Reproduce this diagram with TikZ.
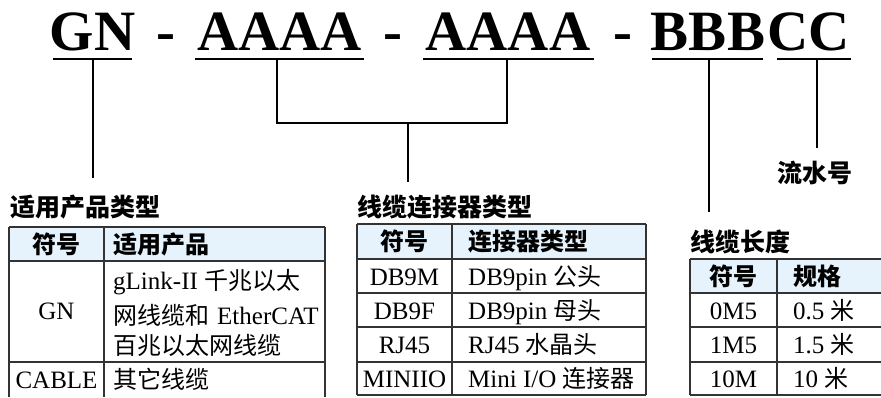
\documentclass[tikz,border=0pt]{standalone}
\usepackage{fontspec}
\setmainfont{Liberation Serif}
\newfontfamily\cjk{Noto Sans CJK SC}
\newcommand\zhtxt[1]{{\cjk\fontsize{24}{24}\selectfont #1}}
\newcommand\zhbold[1]{{\cjk\bfseries\fontsize{24}{24}\selectfont #1}}
\definecolor{headblue}{HTML}{E6F3FC}
\definecolor{gridcol}{HTML}{333333}
\begin{document}
\begin{tikzpicture}[x=1pt,y=-1pt,
  codetxt/.style={font=\fontsize{57}{57}\selectfont\bfseries, inner sep=0, anchor=base},
  uline/.style={line width=1.3pt},
  conn/.style={line width=1.3pt},
  ttl/.style={font=\cjk\bfseries\fontsize{25}{25}\selectfont, inner sep=0, anchor=base west},
  cellc/.style={font=\fontsize{25}{25}\selectfont, inner sep=0, anchor=base},
  cellw/.style={font=\fontsize{25}{25}\selectfont, inner sep=0, anchor=base west},
  grid/.style={draw=gridcol, line width=1.1pt},
  hdr/.style={fill=headblue}
]
\useasboundingbox (0,0) rectangle (881,397);

% ---- code line ----
\node[codetxt] (gn) at (92.5,50) {GN};
\node[codetxt] (d1) at (166,50) {-};
\node[codetxt] (a1) at (279.5,50) {AAAA};
\node[codetxt] (d2) at (393,50) {-};
\node[codetxt] (a2) at (508,50) {AAAA};
\node[codetxt] (d3) at (623,50) {-};
\node[codetxt] (bb) at (708,50) {BBB};
\node[codetxt] (cc) at (809,50) {CC};

% underlines
\draw[uline] (53,59) -- (132,59);
\draw[uline] (195,59) -- (364,59);
\draw[uline] (423,59) -- (594,59);
\draw[uline] (652,59) -- (763,59);
\draw[uline] (777,59) -- (851,59);

% connector points
\coordinate (gnU) at (93,59);
\coordinate (gnE) at (93,178);
\coordinate (a1U) at (277,59);
\coordinate (a1B) at (277,123);
\coordinate (a2U) at (507,59);
\coordinate (a2B) at (507,123);
\coordinate (midB) at (408,123);
\coordinate (midE) at (408,182);
\coordinate (bbU) at (709,59);
\coordinate (bbE) at (709,212);
\coordinate (ccU) at (817,59);
\coordinate (ccE) at (817,148);

\draw[conn] (gnU) -- (gnE);
\draw[conn] (a1U) -- (a1B) -- (a2B) -- (a2U);
\draw[conn] (midB) -- (midE);
\draw[conn] (bbU) -- (bbE);
\draw[conn] (ccU) -- (ccE);

% labels
\node[font=\cjk\bfseries\fontsize{25}{25}\selectfont, inner sep=0, anchor=base] (lsh) at (815,182) {流水号};
\node[ttl] (t1) at (10,216.5) {适用产品类型};
\node[ttl] (t2) at (357,216.5) {线缆连接器类型};
\node[ttl] (t3) at (690,251.5) {线缆长度};

% ---- table 1 ----
\fill[hdr] (9,227) rectangle (325,261);
\draw[grid] (9,227) -- (325,227);
\draw[grid] (9,261) -- (325,261);
\draw[grid] (9,362) -- (325,362);
\draw[grid] (9,227) -- (9,397);
\draw[grid] (104,227) -- (104,397);
\draw[grid] (325,227) -- (325,397);
\node[cellc] (h11) at (56.5,253) {\zhbold{符号}};
\node[cellw] (h12) at (113,253) {\zhbold{适用产品}};
\node[cellc] (c11) at (56.5,319) {GN};
\node[cellw] (c12a) at (113,289) {gLink-II \zhtxt{千兆以太}};
\node[cellw] (c12b) at (113,324) {\zhtxt{网线缆和}\hspace{8pt}EtherCAT};
\node[cellw] (c12c) at (113,354) {\zhtxt{百兆以太网线缆}};
\node[cellc] (c21) at (56.5,388) {CABLE};
\node[cellw] (c22) at (113,388) {\zhtxt{其它线缆}};

% ---- table 2 ----
\fill[hdr] (357,224) rectangle (646,259);
\foreach \yy in {224,259,293,327,362,395} \draw[grid] (357,\yy) -- (646,\yy);
\foreach \xx in {357,452,646} \draw[grid] (\xx,224) -- (\xx,395);
\node[cellc] (k11) at (404.5,250.5) {\zhbold{符号}};
\node[cellw] (k12) at (468,250.5) {\zhbold{连接器类型}};
\node[cellc] (k21) at (404.5,285) {DB9M};
\node[cellw] (k22) at (468,285) {DB9pin \zhtxt{公头}};
\node[cellc] (k31) at (404.5,319) {DB9F};
\node[cellw] (k32) at (468,319) {DB9pin \zhtxt{母头}};
\node[cellc] (k41) at (404.5,353.5) {RJ45};
\node[cellw] (k42) at (468,353.5) {RJ45 \zhtxt{水晶头}};
\node[cellc] (k51) at (404.5,387.5) {MINIIO};
\node[cellw] (k52) at (468,387.5) {Mini I/O \zhtxt{连接器}};

% ---- table 3 ----
\fill[hdr] (690,259) rectangle (881,293);
\foreach \yy in {259,293,327,362,395} \draw[grid] (690,\yy) -- (881,\yy);
\foreach \xx in {690,777} \draw[grid] (\xx,259) -- (\xx,395);
\node[cellc] (m11) at (733.5,285) {\zhbold{符号}};
\node[cellw] (m12) at (793,285) {\zhbold{规格}};
\node[cellc] (m21) at (733.5,319) {0M5};
\node[cellw] (m22) at (793,319) {0.5 \zhtxt{米}};
\node[cellc] (m31) at (733.5,353.5) {1M5};
\node[cellw] (m32) at (793,353.5) {1.5 \zhtxt{米}};
\node[cellc] (m41) at (733.5,387.5) {10M};
\node[cellw] (m42) at (793,387.5) {10 \zhtxt{米}};
\end{tikzpicture}
\end{document}
